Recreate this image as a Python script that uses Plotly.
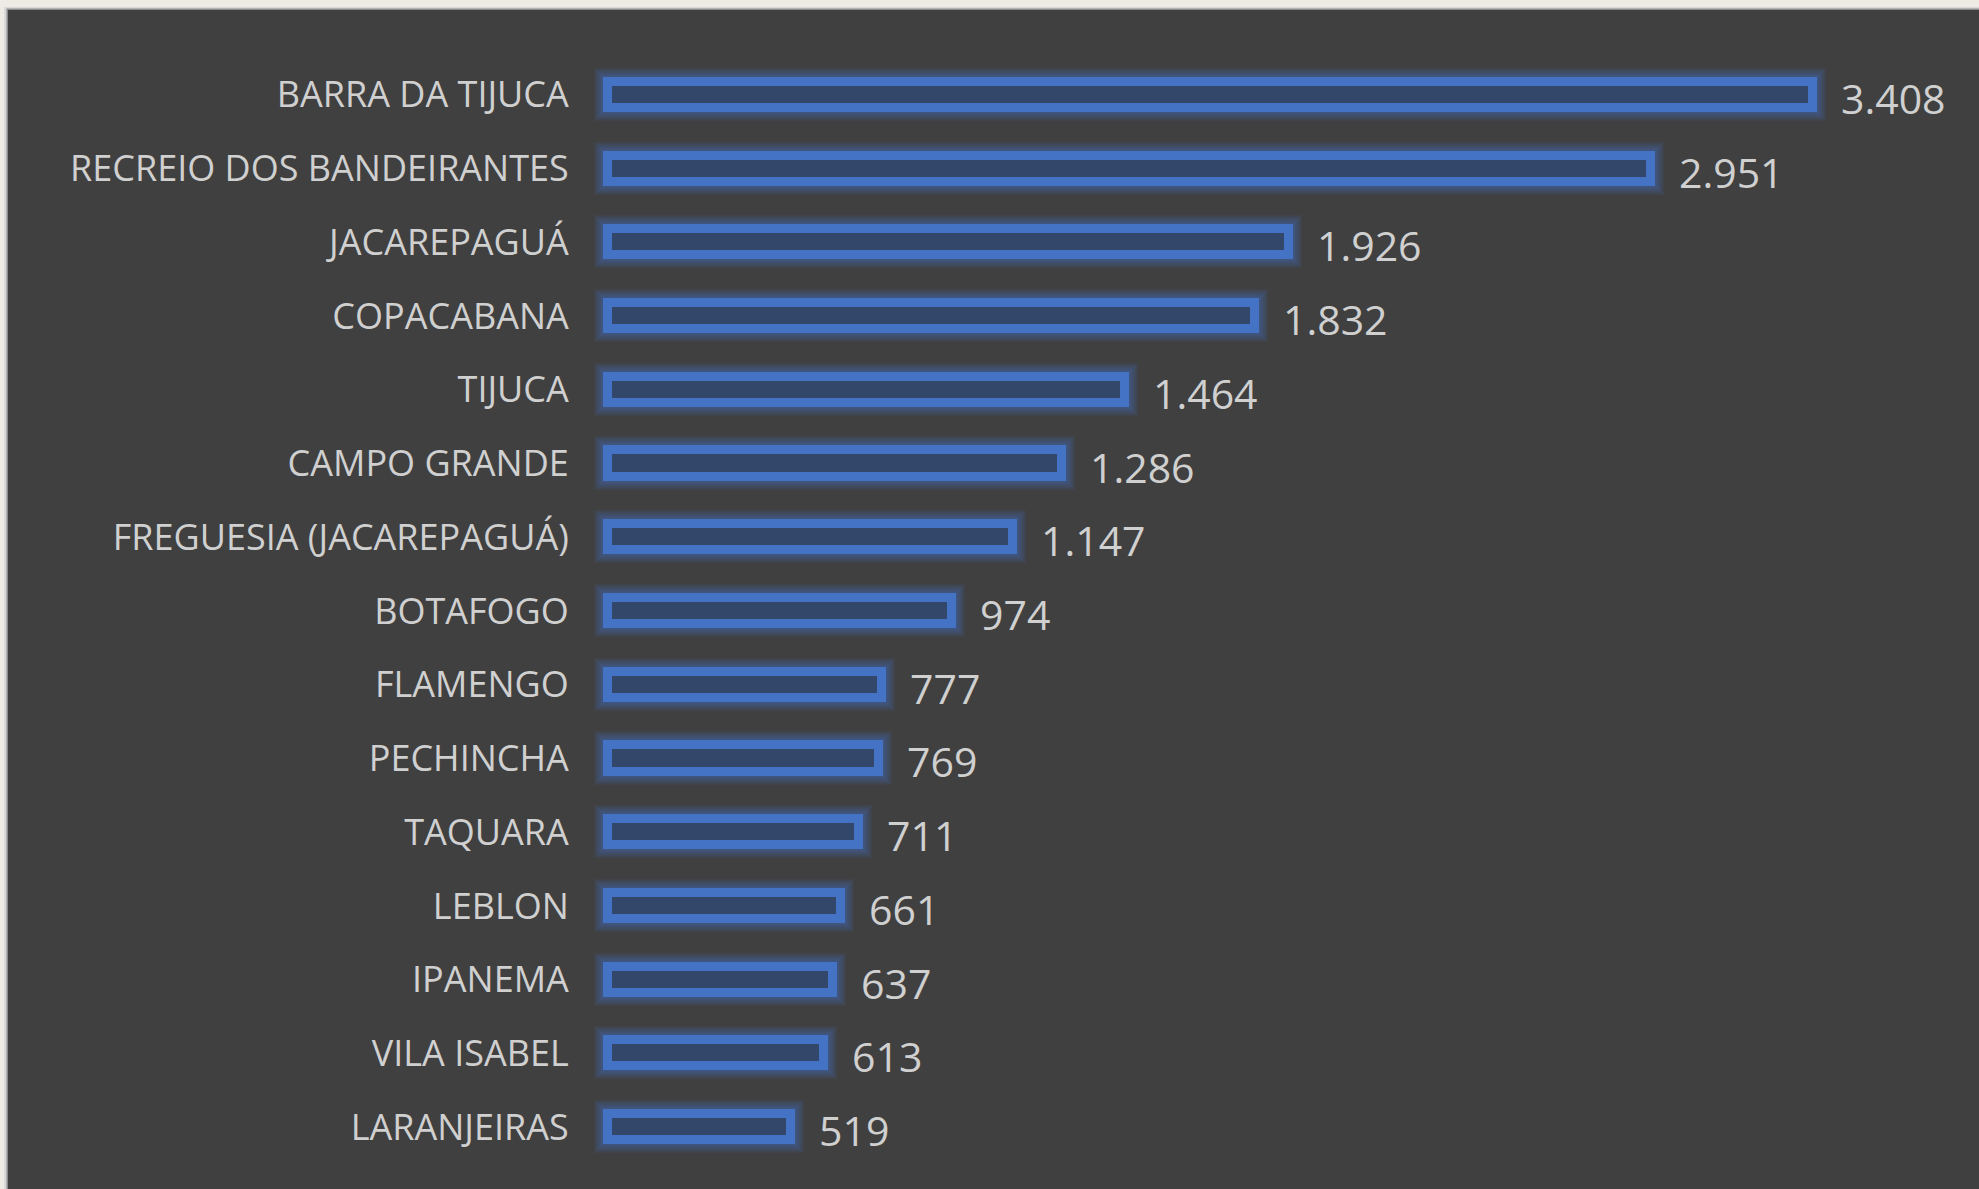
import plotly.graph_objects as go

# ---- data ----
bairros = [
    "BARRA DA TIJUCA", "RECREIO DOS BANDEIRANTES", "JACAREPAGUÁ", "COPACABANA",
    "TIJUCA", "CAMPO GRANDE", "FREGUESIA (JACAREPAGUÁ)", "BOTAFOGO", "FLAMENGO",
    "PECHINCHA", "TAQUARA", "LEBLON", "IPANEMA", "VILA ISABEL", "LARANJEIRAS",
]
valores = [3408, 2951, 1926, 1832, 1464, 1286, 1147, 974, 777, 769, 711, 661, 637, 613, 519]
rotulos = [f"{v:,}".replace(",", ".") for v in valores]

# ---- layout geometry (pixels) ----
W, H = 1979, 1189
ML, MR, MT, MB = 580, 0, 58, 25
PW, PH = W - ML - MR, H - MT - MB
ZERO_PX = 607.5
SCALE = 0.3536  # px per unit
X_MIN = -(ZERO_PX - ML) / SCALE
X_MAX = (W - MR - ZERO_PX) / SCALE


def px_x(p):
    return (p - ML) / PW


def px_y(p):
    return (H - MB - p) / PH


BLUE = "#4472C4"
FILL = "#33476B"
TXT = "#D0D0D0"
FONT = "Open Sans"

fig = go.Figure()

# soft glow layers (outermost first)
for lw in range(27, 9, -2):
    fig.add_trace(go.Bar(
        x=valores, y=bairros, orientation="h", width=0.355,
        marker=dict(color="rgba(0,0,0,0)", line=dict(color="rgba(68,114,196,0.07)", width=lw)),
        hoverinfo="skip", showlegend=False,
    ))

# main bars
fig.add_trace(go.Bar(
    x=valores, y=bairros, orientation="h", width=0.355,
    marker=dict(color=FILL, line=dict(color=BLUE, width=9)),
    showlegend=False,
))

# value labels
for b, v, t in zip(bairros, valores, rotulos):
    fig.add_annotation(
        x=v, y=b, text=t, showarrow=False, xanchor="left", yanchor="middle",
        xshift=26, yshift=-3, font=dict(family=FONT, size=41, color=TXT),
    )

# background panels
fig.add_shape(type="rect", xref="paper", yref="paper",
              x0=px_x(4), x1=px_x(W + 20), y0=px_y(H + 20), y1=px_y(7),
              fillcolor="#D9D9D9", line_width=0, layer="below")
fig.add_shape(type="rect", xref="paper", yref="paper",
              x0=px_x(6.5), x1=px_x(W + 20), y0=px_y(H + 20), y1=px_y(8.5),
              fillcolor="#8C8C8C", line_width=0, layer="below")
fig.add_shape(type="rect", xref="paper", yref="paper",
              x0=px_x(8), x1=px_x(W + 20), y0=px_y(H + 20), y1=px_y(10),
              fillcolor="#404040", line_width=0, layer="below")

fig.update_layout(
    width=W, height=H,
    margin=dict(l=ML, r=MR, t=MT, b=MB, pad=0),
    paper_bgcolor="#EEEBE4",
    plot_bgcolor="rgba(0,0,0,0)",
    barmode="overlay",
    bargap=0,
    showlegend=False,
    xaxis=dict(range=[X_MIN, X_MAX], visible=False, showgrid=False, zeroline=False, fixedrange=True),
    yaxis=dict(
        categoryorder="array", categoryarray=bairros, autorange="reversed",
        showgrid=False, zeroline=False, showline=False,
        ticks="outside", ticklen=3, tickcolor="rgba(0,0,0,0)",
        tickfont=dict(family=FONT, size=36, color=TXT),
    ),
)

fig.write_html(
    "out.html",
    config={"displayModeBar": False},
    post_script="document.body.style.margin='0px';document.body.style.overflow='hidden';",
)
